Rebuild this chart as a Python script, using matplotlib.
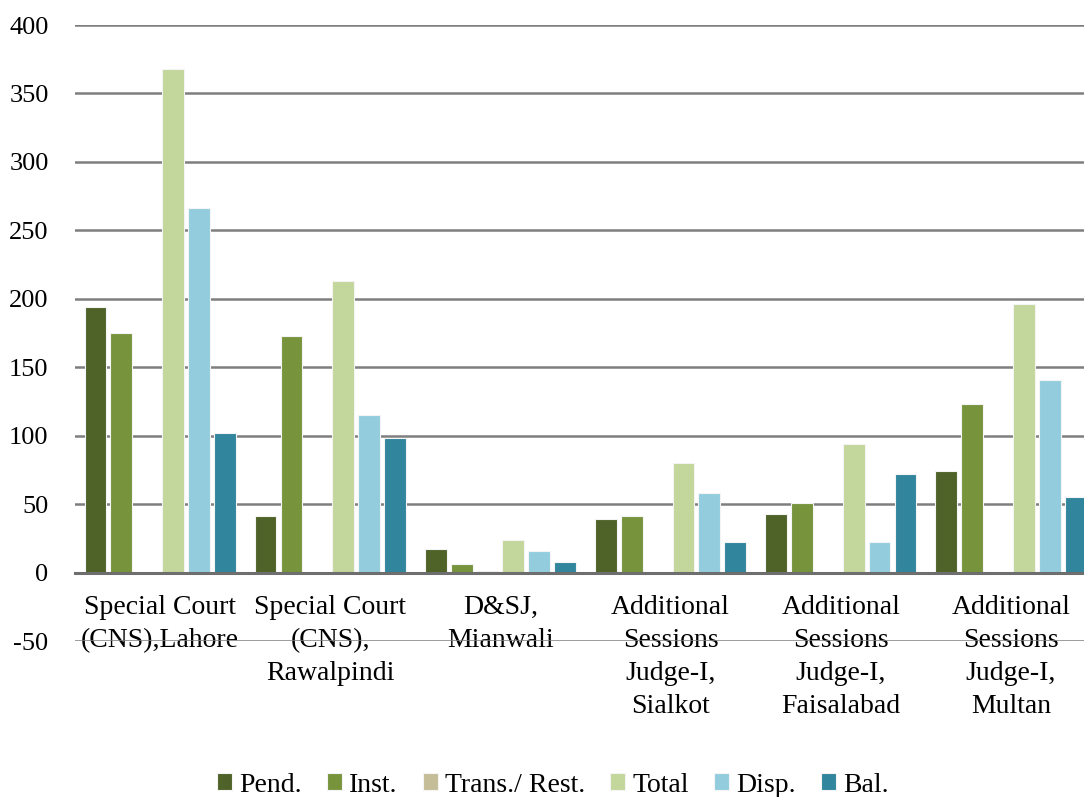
import matplotlib
matplotlib.use('Agg')
import matplotlib.pyplot as plt
import numpy as np

plt.rcParams['font.family'] = ['Liberation Serif', 'DejaVu Serif']
plt.rcParams['axes.unicode_minus'] = False

# kategoriler (mahkemeler)
categories = ['Special Court\n(CNS),Lahore',
              'Special Court\n(CNS),\nRawalpindi',
              'D&SJ,\nMianwali',
              'Additional\nSessions\nJudge-I,\nSialkot',
              'Additional\nSessions\nJudge-I,\nFaisalabad',
              'Additional\nSessions\nJudge-I,\nMultan']

series_names = ['Pend.', 'Inst.', 'Trans./ Rest.', 'Total', 'Disp.', 'Bal.']
pend = [194, 41, 17, 39, 43, 74]
inst = [175, 173, 6, 41, 51, 123]
trans = [0, 0, 1, 0, 0, 0]
total = [368, 213, 24, 80, 94, 196]
disp = [266, 115, 16, 58, 22, 141]
bal = [102, 98, 8, 22, 72, 55]

y_ticks = [-50, 0, 50, 100, 150, 200, 250, 300, 350, 400]

colors = ['#4F6228', '#77933C', '#C4BD97', '#C3D69B', '#93CDDD', '#31859C']

fig = plt.figure(figsize=(10.84, 7.97), dpi=100)
ax = fig.add_axes([75 / 1084, 1 - 641 / 797, 1021 / 1084, 616 / 797])

x = np.arange(len(categories))
slot = 0.152
for i, (name, vals) in enumerate(zip(series_names, [pend, inst, trans, total, disp, bal])):
    ax.bar(x + (i - 2.5) * slot, vals, width=0.128, color=colors[i],
           edgecolor='#f4f4f4', linewidth=0.8, label=name, zorder=3)

ax.set_xlim(-0.5, 5.5)
ax.set_ylim(-50, 400)
ax.set_yticks(y_ticks)
ax.yaxis.grid(True, color='#7e7e7e', linewidth=1.8, zorder=0)
ax.set_axisbelow(True)

for s in ['top', 'right', 'left']:
    ax.spines[s].set_visible(False)
ax.spines['bottom'].set_position(('data', 0))
ax.spines['bottom'].set_color('#6e6e6e')
ax.spines['bottom'].set_linewidth(2.2)
ax.spines['bottom'].set_zorder(4)

ax.set_xticks(x)
ax.set_xticklabels(categories, fontsize=20, linespacing=1.42, va='top')
ax.tick_params(axis='x', length=0, pad=16)
ax.tick_params(axis='y', length=0, pad=19, labelsize=19)

fig.legend(loc='lower center', bbox_to_anchor=(0.51, -0.032), ncol=6, frameon=False,
           fontsize=20, handlelength=0.55, handleheight=0.55, handletextpad=0.25,
           columnspacing=0.9)

fig.savefig('out.png', dpi=100)
